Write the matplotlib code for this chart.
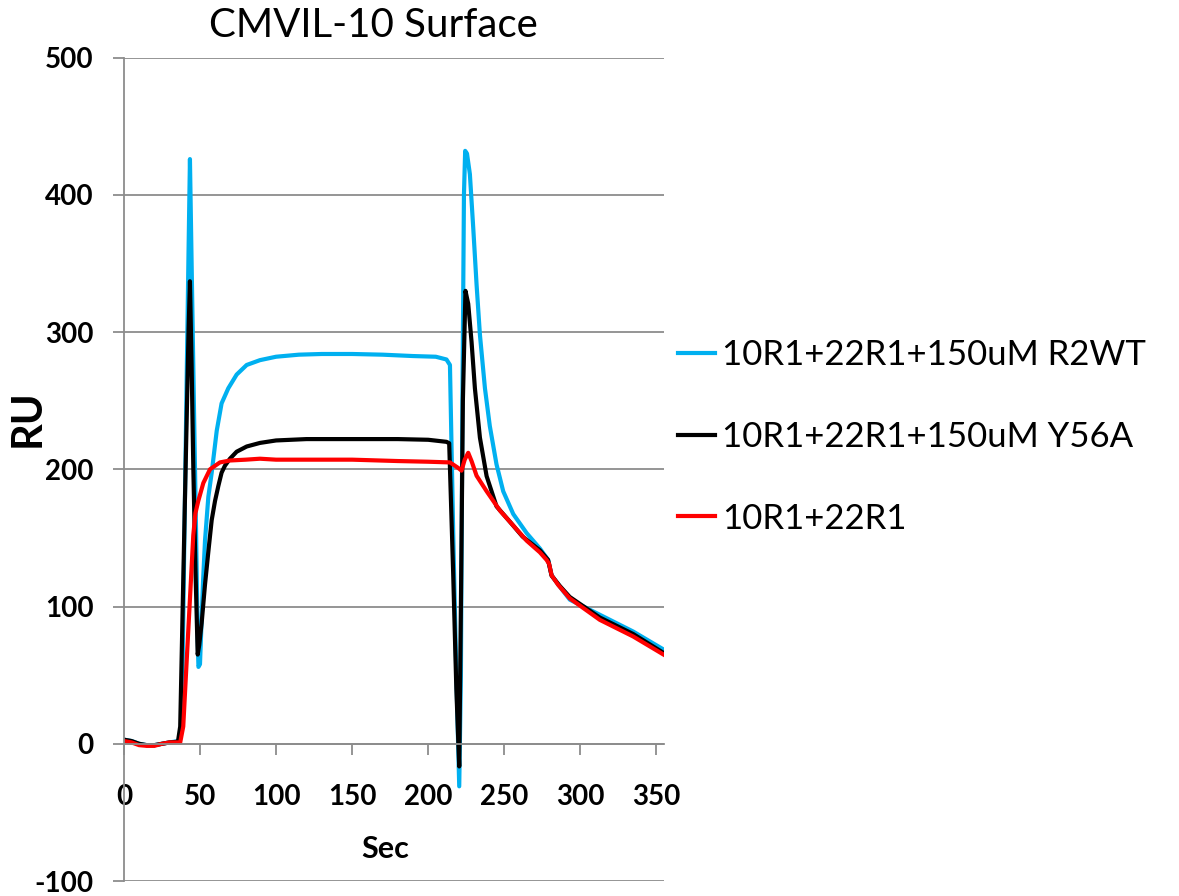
import matplotlib.pyplot as plt

# values
sec_r2wt = [0, 5, 10, 15, 20, 25, 30, 36, 38, 40, 42.5, 43.4, 44.5, 46.1, 47.5, 48.5, 49,
            50, 51, 52, 53.3, 55.5, 57.7, 61, 64.2, 68.6, 74.1, 80.7, 89.4, 100, 115, 130,
            150, 170, 190, 205, 212, 214.3, 216.5, 218.5, 220.4, 221.5, 222.5, 223.5, 224.3,
            225.5, 227.4, 229.6, 231.8, 234, 237.3, 240.5, 244.9, 249.3, 255.9, 264.7,
            273.4, 278.8, 281.1, 286.5, 293.1, 312.8, 334.7, 355]
ru_r2wt = [3, 2, 0, -1, -1, 0, 1, 2, 12.6, 170, 360, 426, 350, 241, 150, 75, 56,
           58, 88, 118, 148, 180, 197.5, 228, 248, 259, 269, 276, 279.5, 282, 283.5, 284,
           284, 283.5, 282.5, 282, 280, 276, 150, 50, -31, 50, 250, 400, 432,
           430, 415, 376, 334.5, 298, 259, 231.5, 203.6, 184, 167.4, 153.5,
           142.3, 134, 122.8, 114.5, 105, 94, 81.8, 68.5]

sec_y56a = [0, 5, 10, 15, 20, 25, 30, 35.5, 37, 40, 42.5, 43.4, 44.5, 45.6, 47, 48.5, 49.5,
            51.1, 53.3, 55.5, 57.7, 59.9, 62.1, 64.2, 66.4, 69.7, 74.1, 80.7, 89.4, 100,
            120, 150, 180, 200, 212, 213.8, 216.4, 218.5, 220.4, 221.5, 222.8, 224.5, 226.3,
            228.5, 230.7, 234, 238.4, 244.9, 253.7, 262, 273.4, 278.8, 281.1, 286.5, 293,
            312.8, 334.7, 355]
ru_y56a = [3, 2, 0, -1, -1, 0, 1, 1.5, 12.6, 172, 301, 337, 276, 202, 128, 65, 72,
           88, 116, 140, 163, 177, 188, 197.5, 202.6, 207.7, 212.8, 216.6, 219.2, 221,
           222, 222, 222, 221.5, 220, 219, 125, 40, -16.5, 100, 250, 330, 320.6,
           292.8, 259, 223, 195, 173, 161.8, 151, 141, 134, 122.5, 115, 107,
           92, 80, 66]

sec_ctrl = [0, 5, 10, 15, 20, 25, 30, 37, 39, 41, 43, 45.6, 47, 48.9, 52.2, 56.6, 63.1,
            69.7, 80, 89.4, 100, 130, 150, 180, 200, 214.3, 219.7, 221.9, 224, 226.3,
            228.5, 231.8, 238.4, 247.1, 255.9, 264.7, 273.4, 277.8, 279.5, 281.1, 285.4,
            293, 312.8, 334.7, 355]
ru_ctrl = [2, 1, -1, -1.5, -1.5, 0, 1, 1, 12.6, 55, 97, 152, 168, 177, 190, 200, 205,
           206.4, 207, 207.7, 207, 207, 207, 206, 205.5, 205, 201, 199, 207, 212,
           206, 195.3, 184, 170, 159, 148, 139.5, 134, 131, 122.8, 115.8,
           106, 90.3, 78.2, 64.8]

labels = ["10R1+22R1+150uM R2WT", "10R1+22R1+150uM Y56A", "10R1+22R1"]
colors = ["#00B0F0", "#000000", "#FF0000"]

plt.rcParams['font.family'] = ['Lato', 'DejaVu Sans']
plt.rcParams['axes.unicode_minus'] = False

fig = plt.figure(figsize=(11.79, 8.96), dpi=100)
ax = fig.add_axes([0.1051, 0.0167, 0.4581, 0.9191])

ax.plot(sec_r2wt, ru_r2wt, color=colors[0], lw=3, label=labels[0])
ax.plot(sec_y56a, ru_y56a, color=colors[1], lw=3, label=labels[1])
ax.plot(sec_ctrl, ru_ctrl, color=colors[2], lw=3, label=labels[2])

ax.set_xlim(0, 355)
ax.set_ylim(-100, 500)
ax.set_xticks(range(0, 351, 50))
ax.set_yticks(range(-100, 501, 100))
ax.grid(axis='y', color='#8C8C8C', lw=1.3)
ax.set_axisbelow(True)
for s in ['top', 'right']:
    ax.spines[s].set_visible(False)
ax.spines['bottom'].set_position(('data', 0))
for s in ['bottom', 'left']:
    ax.spines[s].set_color('#8C8C8C')
    ax.spines[s].set_linewidth(1.3)
ax.tick_params(axis='x', direction='out', length=8, width=1.3, color='#8C8C8C',
               pad=21, labelsize=20)
ax.tick_params(axis='y', direction='out', length=8, width=1.3, color='#8C8C8C',
               pad=14, labelsize=20)
for t in ax.get_xticklabels() + ax.get_yticklabels():
    t.set_fontweight('bold')

fig.text(373 / 1179, 1 - 37 / 896, "CMVIL-10 Surface", ha='center', va='baseline', fontsize=29)
fig.text(385 / 1179, 1 - 858 / 896, "Sec", ha='center', va='baseline', fontsize=22, fontweight='bold')
fig.text(28 / 1179, 1 - 418 / 896, "RU", ha='center', va='center', rotation=90,
         fontsize=30, fontweight='bold')

fig.legend(loc='center left', bbox_to_anchor=(678 / 1179, 1 - 437 / 896), frameon=False,
           fontsize=25, handlelength=1.07, handletextpad=0.2, labelspacing=1.43,
           borderpad=0, borderaxespad=0)

fig.savefig("out.png", dpi=100)
